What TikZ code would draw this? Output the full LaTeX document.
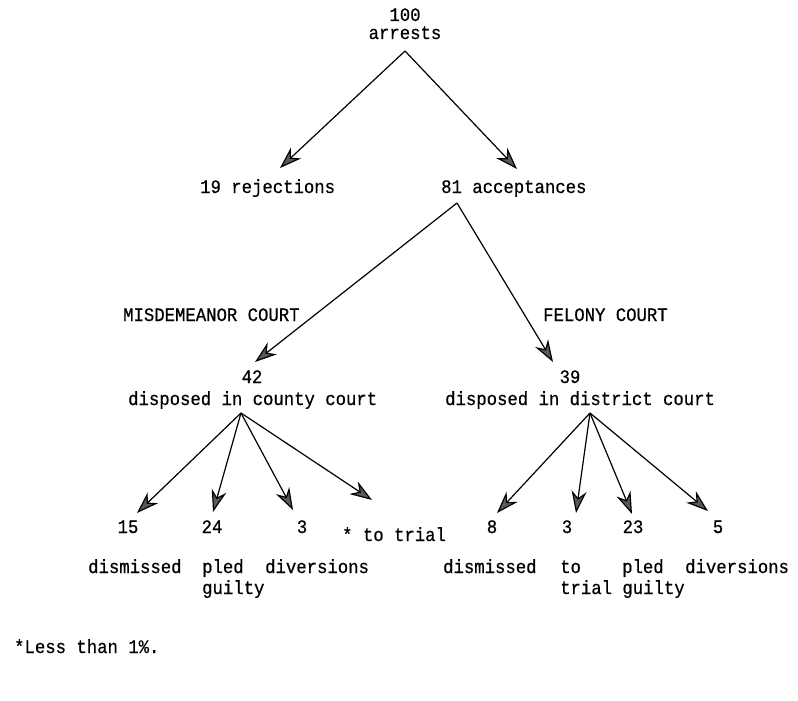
\documentclass[tikz,border=0pt]{standalone}
\usepackage{fontspec}
\newfontfamily\typew[FakeBold=0.6,FakeStretch=0.91]{Liberation Mono}
\usetikzlibrary{arrows.meta}
\tikzset{
  lbl/.style={inner sep=0pt, anchor=base west, font=\fontsize{19}{22}\typew},
  num/.style={inner sep=0pt, anchor=base, font=\fontsize{19}{22}\typew},
  flow/.style={line width=1.2pt,
    -{Stealth[length=22pt,width=15pt,inset=7pt,fill=black!65,line width=1.2pt]}}
}
\begin{document}
\begin{tikzpicture}[x=1pt,y=-1pt]
\useasboundingbox (0,0) rectangle (798,701);

% root
\node[num] (n100) at (405,21) {100};
\node[num] (arrests) at (405,39) {arrests};
\coordinate (oRoot) at (405,51);

% first split
\node[lbl] (rej) at (200,193) {19 rejections};
\node[lbl] (acc) at (441,193) {81 acceptances};
\coordinate (tRej) at (280,168);
\coordinate (tAcc) at (517,169);
\coordinate (oAcc) at (457,203);

% courts
\node[lbl] (misd) at (123,321) {MISDEMEANOR COURT};
\node[lbl] (fel) at (543,321) {FELONY COURT};
\node[num] (n42) at (252,383) {42};
\node[lbl] (county) at (128,405) {disposed in county court};
\node[num] (n39) at (570,383) {39};
\node[lbl] (district) at (445,405) {disposed in district court};
\coordinate (t42) at (255,362);
\coordinate (t39) at (553,362);
\coordinate (oCounty) at (241,413);
\coordinate (oDistrict) at (590,413);

% county court outcomes
\node[num] (c15) at (128,533) {15};
\node[num] (c24) at (212,533) {24};
\node[num] (c3) at (302,533) {3};
\node[lbl] (ctrial) at (342,541) {* to trial};
\node[lbl] (cdis) at (88,573) {dismissed};
\node[lbl] (cpled) at (202,573) {pled};
\node[lbl] (cguilty) at (202,594) {guilty};
\node[lbl] (cdiv) at (265,573) {diversions};
\coordinate (t15) at (137,513);
\coordinate (t24) at (213,512);
\coordinate (t3) at (293,510);
\coordinate (tTrial) at (372,500);

% district court outcomes
\node[num] (d8) at (492,533) {8};
\node[num] (d3) at (567,533) {3};
\node[num] (d23) at (633,533) {23};
\node[num] (d5) at (718,533) {5};
\node[lbl] (ddis) at (443,573) {dismissed};
\node[lbl] (dto) at (560,573) {to};
\node[lbl] (dtrial) at (560,594) {trial guilty};
\node[lbl] (dpled) at (622,573) {pled};
\node[lbl] (ddiv) at (685,573) {diversions};
\coordinate (t8) at (497,513);
\coordinate (td3) at (576,513);
\coordinate (t23) at (632,514);
\coordinate (t5) at (708,511);

% footnote
\node[lbl] (note) at (14,653) {*Less than 1\%.};

% connectors
\draw[flow] (oRoot) -- (tRej);
\draw[flow] (oRoot) -- (tAcc);
\draw[flow] (oAcc) -- (t42);
\draw[flow] (oAcc) -- (t39);
\draw[flow] (oCounty) -- (t15);
\draw[flow] (oCounty) -- (t24);
\draw[flow] (oCounty) -- (t3);
\draw[flow] (oCounty) -- (tTrial);
\draw[flow] (oDistrict) -- (t8);
\draw[flow] (oDistrict) -- (td3);
\draw[flow] (oDistrict) -- (t23);
\draw[flow] (oDistrict) -- (t5);
\end{tikzpicture}
\end{document}
